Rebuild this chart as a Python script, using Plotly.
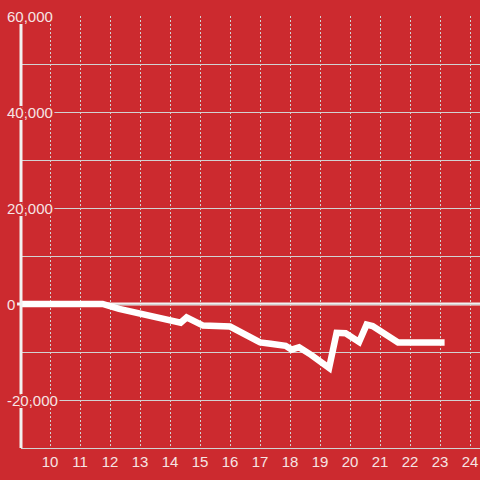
import plotly.graph_objects as go

# Data
hours = [9.0, 11.75, 12.3, 12.8, 13.1, 13.5, 14.1, 14.35, 14.55, 15.1, 16.0, 16.5,
         17.0, 17.35, 17.85, 18.05, 18.3, 18.7, 19.3, 19.55, 19.85, 20.3, 20.55,
         20.75, 21.6, 23.15]
values = [0, 0, -1000, -1700, -2200, -2900, -3400, -3900, -2800, -4500, -4700, -6200,
          -8000, -8300, -8700, -9500, -9000, -10600, -13300, -6000, -6100, -7900, -4300,
          -4600, -8000, -8000]

x_ticks = list(range(10, 25))
y_ticks = [60000, 40000, 20000, 0, -20000]
y_tick_labels = ["60,000", "40,000", "20,000", "0", "-20,000"]

BG = "#cc2a2f"
GRID = "#d2d2d2"
AXIS = "#f2f0f0"
TEXT = "#f6e4e4"

fig = go.Figure()
fig.add_trace(go.Scatter(x=hours, y=values, mode="lines",
                         line=dict(color="#ffffff", width=6.5), hoverinfo="skip"))

halo = ", ".join(f"{dx}px {dy}px 0 {BG}" for dx, dy in
                 [(-2, 0), (2, 0), (0, -2), (0, 2), (-2, -2), (2, 2), (-2, 2), (2, -2)])

annotations = []
for v, t in zip(y_ticks, y_tick_labels):
    annotations.append(dict(x=0, xref="paper", y=v, yref="y", text=t, showarrow=False,
                            xanchor="left", yanchor="middle", xshift=-16,
                            font=dict(family="Liberation Sans, Arial, sans-serif",
                                      size=15, color=TEXT, shadow=halo)))

shapes = [
    dict(type="line", xref="paper", yref="y", x0=-0.009, x1=1, y0=0, y1=0,
         line=dict(color=AXIS, width=3), layer="between"),
    dict(type="line", xref="paper", yref="paper", x0=0, x1=0, y0=0, y1=1,
         line=dict(color=AXIS, width=3), layer="above"),
]

fig.update_layout(
    width=480, height=480,
    margin=dict(l=21, r=0, t=16, b=32),
    paper_bgcolor=BG, plot_bgcolor=BG,
    showlegend=False,
    annotations=annotations,
    shapes=shapes,
    xaxis=dict(range=[9.03, 24.33], tickvals=x_ticks, ticktext=[str(v) for v in x_ticks],
               showgrid=True, gridcolor=GRID, gridwidth=1, griddash="2px,2px",
               showline=True, linecolor=GRID, linewidth=1, zeroline=False,
               ticks="", tickfont=dict(family="Liberation Sans, Arial, sans-serif",
                                       size=15, color=TEXT)),
    yaxis=dict(range=[-30000, 60000], dtick=10000, tick0=0,
               showgrid=True, gridcolor=GRID, gridwidth=1,
               showticklabels=False, zeroline=False, showline=False, ticks=""),
)

fig.write_html("out.html", config={"displayModeBar": False},
               post_script="document.body.style.margin='0';document.body.style.padding='0';")
